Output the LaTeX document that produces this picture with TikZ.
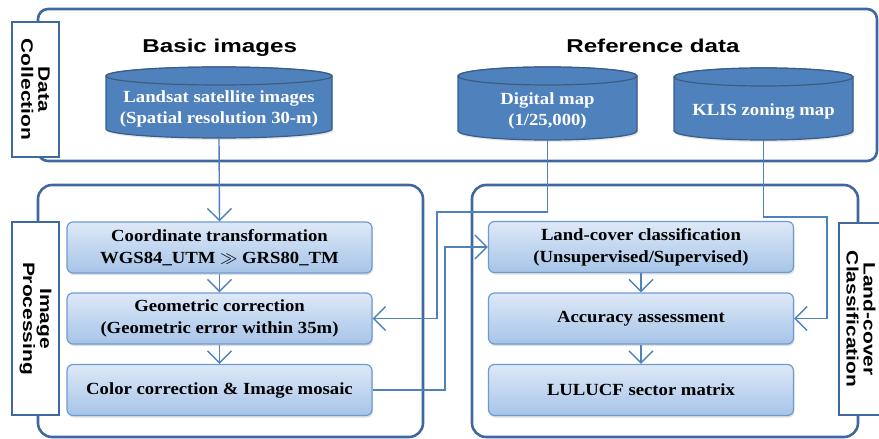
\documentclass[tikz,border=0pt]{standalone}
\usepackage{fontspec}
\usetikzlibrary{arrows.meta,shadows}
\newfontfamily\hdfont[FakeStretch=1.3]{Liberation Sans}
\newfontfamily\lbfont[FakeStretch=1.27]{Liberation Sans}
\newfontfamily\txfont[FakeStretch=1.1]{Liberation Serif}
\definecolor{pnl}{RGB}{62,104,158}
\definecolor{lnc}{RGB}{79,129,189}
\definecolor{cylf}{RGB}{79,129,189}
\definecolor{cylb}{RGB}{56,93,138}
\definecolor{boxb}{RGB}{110,155,210}
\definecolor{boxt}{RGB}{222,233,247}
\definecolor{boxd}{RGB}{166,196,232}
\newcommand\dbcyl[4]{%
  \pgfmathsetmacro\cxc{(#1+#2)/2}%
  \pgfmathsetmacro\crx{(#2-#1)/2}%
  \filldraw[cylbody] (#1,#3+9) -- (#1,#4-9)
     arc[start angle=180,end angle=0,x radius=\crx,y radius=9]
     -- (#2,#3+9)
     arc[start angle=0,end angle=-180,x radius=\crx,y radius=9] -- cycle;
  \draw[cylbody] (\cxc,#3+9) ellipse[x radius=\crx,y radius=9];
}
\begin{document}
\begin{tikzpicture}[x=1pt,y=-1pt,
  panel/.style={draw=pnl,line width=2.6pt,rounded corners=14pt},
  lbl/.style={draw=pnl,line width=1.8pt,fill=white,inner sep=0pt,rotate=-90,
    align=center,font=\lbfont\bfseries\fontsize{16.5}{17}\selectfont},
  hdr/.style={font=\hdfont\bfseries\fontsize{18.6}{22}\selectfont,inner sep=0pt},
  cylbody/.style={fill=cylf,draw=cylb,line width=1.2pt,
    drop shadow={shadow xshift=1pt,shadow yshift=-2pt,opacity=0.2}},
  cyltxt/.style={text=white,align=center,inner sep=0pt,
    font=\txfont\bfseries\fontsize{17}{21}\selectfont},
  proc/.style={draw=boxb,line width=1.2pt,rounded corners=6pt,
    top color=boxt,bottom color=boxd,minimum width=305pt,minimum height=51pt,
    inner sep=0pt,align=center,font=\txfont\bfseries\fontsize{17}{22}\selectfont,
    drop shadow={shadow xshift=1pt,shadow yshift=-2pt,opacity=0.25}},
  conn/.style={draw=lnc,line width=1.4pt},
  arr/.style={conn,arrows={-Straight Barb[length=12pt,width=24pt]}},
]
\useasboundingbox (0,0) rectangle (879,439);
% panels
\draw[panel,rounded corners=10pt] (38,9) rectangle (877,161);
\draw[panel] (38,185) rectangle (423,437);
\draw[panel] (472,185) rectangle (858,437);
% labels
\node[lbl,minimum width=135pt,minimum height=47pt] (dc) at (35.5,89.5) {Data\\Collection};
\node[lbl,minimum width=193pt,minimum height=47pt] (ip) at (35.5,318.5) {Image\\Processing};
\node[lbl,minimum width=192pt,minimum height=44pt] (lc) at (861,319) {Land-cover\\Classification};
% headers
\node[hdr] (basic) at (219.7,48) {Basic images};
\node[hdr] (refd) at (653,46) {Reference data};
% cylinders
\dbcyl{106}{332}{67}{138}
\dbcyl{458}{637}{67}{140}
\dbcyl{674}{853}{68}{140}
\node[cyltxt,minimum width=226pt,minimum height=58pt] (landsat) at (219,109)
  {Landsat satellite images\\(Spatial resolution 30-m)};
\node[cyltxt,minimum width=179pt,minimum height=59pt] (digmap) at (547.5,110.5)
  {Digital map\\(1/25,000)};
\node[cyltxt,minimum width=179pt,minimum height=58pt] (klis) at (763.5,111)
  {KLIS zoning map};
% process boxes
\node[proc] (ct) at (219.5,247.5) {Coordinate transformation\\WGS84\_UTM $\gg$ GRS80\_TM};
\node[proc] (gc) at (219.5,318.5) {Geometric correction\\(Geometric error within 35m)};
\node[proc] (cc) at (219.5,390) {Color correction \& Image mosaic};
\node[proc] (lcc) at (641,247) {Land-cover classification\\(Unsupervised/Supervised)};
\node[proc] (acc) at (641,318.5) {Accuracy assessment};
\node[proc] (lul) at (641,390) {LULUCF sector matrix};
% connectors
\coordinate (t1) at (437,212);
\coordinate (t2) at (445,390);
\coordinate (t3) at (827,217);
\draw[arr] (landsat.south) -- (ct.north);
\draw[arr] (ct.south) -- (gc.north);
\draw[arr] (gc.south) -- (cc.north);
\draw[arr] (lcc.south) -- (acc.north);
\draw[arr] (acc.south) -- (lul.north);
\draw[arr] (digmap.south) |- (t1) |- (gc.east);
\draw[arr] (cc.east) -- (t2) |- (lcc.west);
\draw[arr] (klis.south) |- (t3) |- (acc.east);
\end{tikzpicture}
\end{document}
